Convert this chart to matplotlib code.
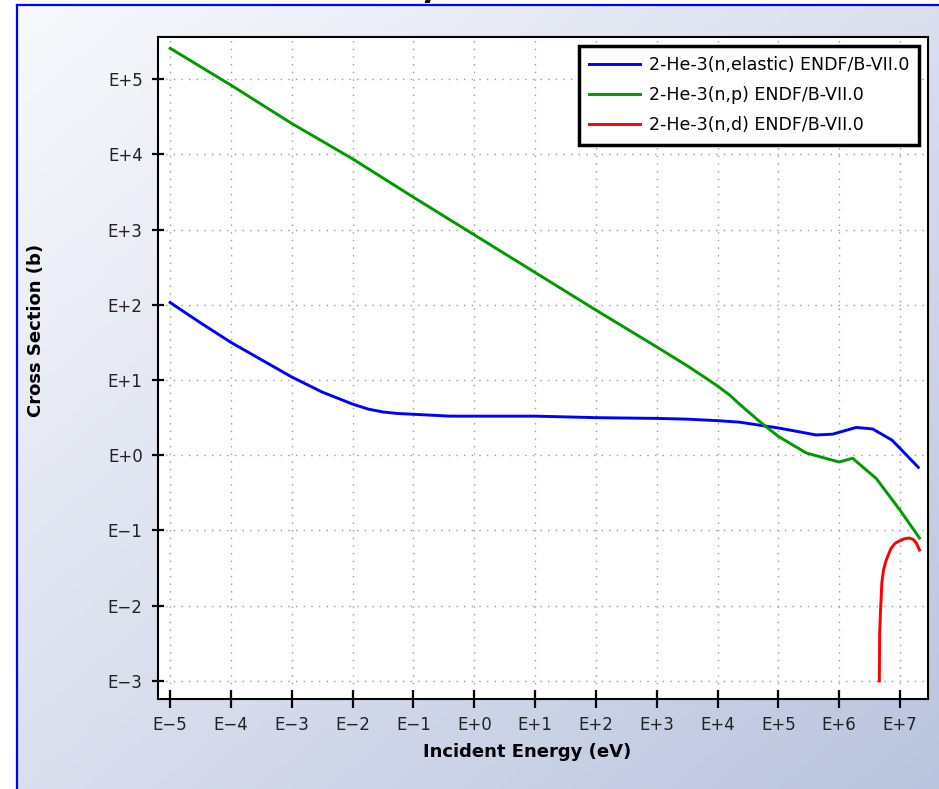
import numpy as np
import matplotlib
matplotlib.use("Agg")
import matplotlib.pyplot as plt

# data as log10(E [eV]) and log10(sigma [b])
elastic_logE = [-5, -4.5, -4, -3.5, -3, -2.5, -2, -1.75, -1.5, -1.25, -1, -0.4, 1, 2, 3,
                3.5, 4, 4.36, 5.02, 5.62, 5.89, 6.28, 6.55, 6.87, 7.30]
elastic_logS = [2.03, 1.76, 1.50, 1.27, 1.04, 0.84, 0.68, 0.615, 0.575, 0.555, 0.545,
                0.52, 0.52, 0.50, 0.49, 0.48, 0.46, 0.44, 0.36, 0.27, 0.28, 0.37, 0.35,
                0.20, -0.16]

np_logE = [-5, -4, -3, -2, -1, 0, 1, 2, 3, 3.5, 3.8, 4, 4.2, 4.36, 4.69, 5.0, 5.46, 6.0,
           6.22, 6.61, 7.0, 7.32]
np_logS = [5.41, 4.92, 4.41, 3.94, 3.43, 2.93, 2.43, 1.93, 1.44, 1.19, 1.03, 0.92, 0.80,
           0.68, 0.45, 0.25, 0.03, -0.09, -0.04, -0.31, -0.73, -1.10]

nd_logE = [6.66, 6.665, 6.68, 6.69, 6.70, 6.73, 6.77, 6.85, 6.92, 6.99, 7.07, 7.15,
           7.22, 7.27, 7.32]
nd_logS = [-3.0, -2.37, -2.05, -1.90, -1.70, -1.52, -1.40, -1.24, -1.17, -1.14, -1.11,
           -1.10, -1.12, -1.17, -1.26]

labels = ["2-He-3(n,elastic) ENDF/B-VII.0",
          "2-He-3(n,p) ENDF/B-VII.0",
          "2-He-3(n,d) ENDF/B-VII.0"]
colors = ["#0000ff", "#009900", "#ff0000"]

x_decades = list(range(-5, 8))
y_decades = list(range(-3, 6))


def exp_label(k):
    return "E+%d" % k if k >= 0 else "E\u2212%d" % (-k)


fig = plt.figure(figsize=(9.39, 7.89), dpi=100)

# gradient background with the blue frame
bg = fig.add_axes([0, 0, 1, 1], zorder=-10)
W, H = 939, 789
xx, yy = np.meshgrid(np.linspace(0, 1, 200), np.linspace(0, 1, 200))
t = (xx + yy) / 2
c0 = np.array([0.975, 0.978, 0.992])
c1 = np.array([0.73, 0.77, 0.87])
img = c0 + t[..., None] * (c1 - c0)
bg.imshow(img, extent=[17, W, H, 5], aspect="auto")
bg.set_xlim(0, W)
bg.set_ylim(H, 0)
bg.plot([17, 17], [5, H], color="#0000ff", lw=1.6)
bg.plot([17, W], [5, 5], color="#0000ff", lw=1.6)
# title sits mostly above the top edge, as in the reference
bg.text(450, -14, "ENDF/B-VII.0", ha="center", va="center", fontsize=34,
        fontweight="bold", color="black")
bg.axis("off")

ax = fig.add_axes([158 / W, 1 - 699 / H, 770 / W, 662 / H])
ax.set_facecolor("white")

series = [(elastic_logE, elastic_logS), (np_logE, np_logS), (nd_logE, nd_logS)]
for (le, ls), lab, col in zip(series, labels, colors):
    ax.plot(10.0 ** np.array(le), 10.0 ** np.array(ls), color=col, lw=2.1, label=lab)

ax.set_xscale("log")
ax.set_yscale("log")
ax.set_xlim(10 ** -5.2, 10 ** 7.46)
ax.set_ylim(10 ** -3.24, 10 ** 5.56)

ax.set_xticks([10.0 ** k for k in x_decades])
ax.set_xticklabels([exp_label(k) for k in x_decades])
ax.set_yticks([10.0 ** k for k in y_decades])
ax.set_yticklabels([exp_label(k) for k in y_decades])
ax.minorticks_off()

ax.tick_params(axis="x", direction="inout", length=12.5, width=1.6, pad=6,
               labelsize=12, colors="black", labelcolor="#222222")
ax.tick_params(axis="y", direction="inout", length=8, width=1.6, pad=7,
               labelsize=12, colors="black", labelcolor="#222222")

ax.grid(True, color="#999999", linestyle=(0, (1, 4.5)), linewidth=1.0)
for s in ax.spines.values():
    s.set_linewidth(1.5)
    s.set_color("black")

ax.set_xlabel("Incident Energy (eV)", fontsize=13, fontweight="bold")
ax.set_ylabel("Cross Section (b)", fontsize=13, fontweight="bold")
ax.xaxis.set_label_coords(0.479, -0.080)
ax.xaxis.label.set_va("center")
ax.yaxis.set_label_coords(-0.158, 0.557)
ax.yaxis.label.set_va("center")

leg = ax.legend(loc="upper right", fontsize=12.5, handlelength=2.9, frameon=True,
                fancybox=False, borderaxespad=0.5, labelspacing=0.7,
                handletextpad=0.5, borderpad=0.6)
leg.get_frame().set_edgecolor("black")
leg.get_frame().set_linewidth(2.5)
leg.get_frame().set_alpha(1)

fig.savefig("out.png", dpi=100)
